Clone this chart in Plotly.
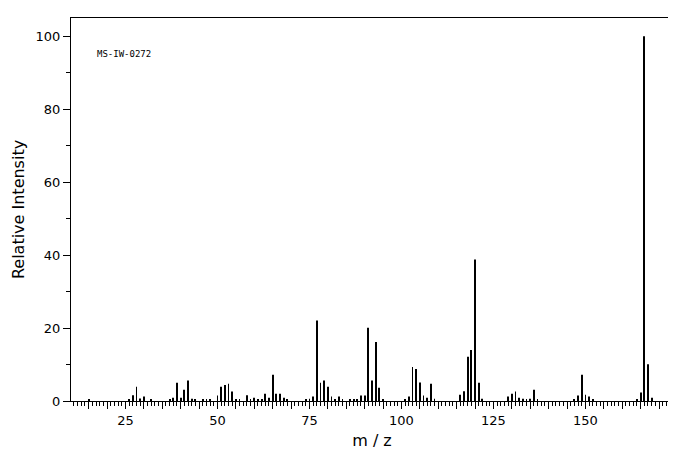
import plotly.graph_objects as go

mz = [15,26,27,28,29,30,32,37,38,39,40,41,42,43,44,46,47,48,50,51,52,53,54,55,56,58,59,60,61,62,63,64,65,66,67,68,69,
      74,75,76,77,78,79,80,81,82,83,84,86,87,88,89,90,91,92,93,94,95,101,102,103,104,105,106,107,108,109,
      116,117,118,119,120,121,122,129,130,131,132,133,134,135,136,137,147,148,149,150,151,152,164,165,166,167,168]
inten = [0.4,0.4,1.6,3.9,0.7,1.2,0.4,0.4,0.9,5.0,0.9,3.1,5.6,0.6,0.4,0.4,0.5,0.4,1.5,3.9,4.4,4.7,2.6,0.4,0.4,1.6,0.5,0.9,0.4,0.4,2.0,0.9,7.2,2.0,2.0,0.9,0.4,
         0.4,0.6,1.2,22.1,5.0,5.6,3.9,1.2,0.5,1.2,0.4,0.4,0.4,0.4,1.5,1.5,20.1,5.6,16.2,3.6,0.4,0.4,1.2,9.3,8.8,5.1,1.5,0.9,4.7,0.6,
         1.7,2.7,12.1,14.0,38.8,5.0,0.6,1.2,2.0,2.6,0.9,0.6,0.4,0.6,3.1,0.4,0.4,1.5,7.2,1.7,1.2,0.4,0.4,2.3,100,10.1,0.9]
x_major = [25,50,75,100,125,150]
y_ticks = [0,20,40,60,80,100]

xt = list(range(15, 175, 5))
fig = go.Figure(go.Bar(x=mz, y=inten, width=0.22, marker=dict(color="black", line=dict(width=0))))
fig.update_layout(
    width=676, height=455, margin=dict(l=63, r=11, t=10, b=62, pad=0),
    plot_bgcolor="white", paper_bgcolor="white", showlegend=False,
    font=dict(family="DejaVu Sans", color="black", size=13),
    annotations=[dict(text="MS-IW-0272", x=0.04, y=0.925, xref="paper", yref="paper",
                      showarrow=False, xanchor="left", font=dict(family="DejaVu Sans Mono", size=9))],
)
fig.update_xaxes(range=[10.2, 173.8], showline=True, linecolor="black", linewidth=1, mirror=True,
                 automargin=False,
                 showgrid=False, zeroline=False, ticks="outside", ticklen=7, tickcolor="black",
                 tickvals=xt, ticktext=[str(v) if v in x_major else "" for v in xt],
                 minor=dict(dtick=1, tick0=0, ticks="outside", ticklen=4, tickcolor="black"),
                 title=dict(text="m / z", font=dict(size=16), standoff=8))
fig.update_yaxes(range=[0, 105], showline=True, linecolor="black", linewidth=1, mirror=True,
                 automargin=False,
                 showgrid=False, zeroline=False, ticks="outside", ticklen=7, tickcolor="black",
                 tickvals=y_ticks, minor=dict(dtick=10, ticks="outside", ticklen=4, tickcolor="black"),
                 title=dict(text="Relative Intensity", font=dict(size=16), standoff=6))
fig.write_html("out.html")
